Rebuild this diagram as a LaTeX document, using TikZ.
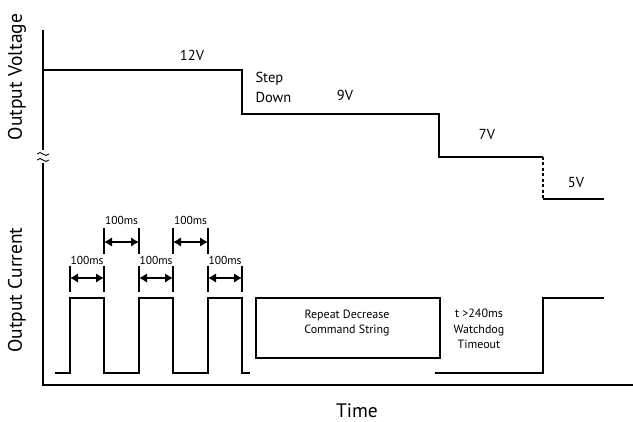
\documentclass[tikz,border=0pt]{standalone}
\usepackage{fontspec}
\setmainfont{PT Sans}
\usetikzlibrary{arrows.meta}
\begin{document}
\begin{tikzpicture}[x=1pt,y=-1pt,
  wave/.style={line width=1.3pt},
  axis/.style={line width=1.4pt},
  dim/.style={line width=1.4pt,{Latex[length=8pt,width=9.5pt]}-{Latex[length=8pt,width=9.5pt]}},
  tick/.style={line width=1.4pt},
  big/.style={font=\fontsize{19.5}{22}\selectfont},
  mid/.style={font=\fontsize{14.5}{20}\selectfont},
  small/.style={font=\fontsize{11.5}{13}\selectfont},
  boxtxt/.style={font=\fontsize{12}{15.5}\selectfont,align=center}]
\useasboundingbox (0,0) rectangle (633,422);
% axes
\draw[axis] (43,30) -- (43,150);
\draw[axis] (43,163) -- (43,385) -- (633,385);
\draw[line width=0.9pt] (37,154) .. controls (41,149) and (45,159) .. (49,154);
\draw[line width=0.9pt] (37,160) .. controls (41,155) and (45,165) .. (49,160);
% axis labels
\node[big,rotate=90] (ov) at (17,77) {Output Voltage};
\node[big,rotate=90] (oc) at (17,290) {Output Current};
\node[big] (time) at (357,411) {Time};
% voltage
\draw[wave] (43,70) -- (242,70) -- (242,114) -- (439,114) -- (439,157) -- (543,157);
\draw[wave,dashed,dash pattern=on 3pt off 2.5pt] (543,157) -- (543,199);
\draw[wave] (543,199) -- (604,199);
\node[mid] (v12) at (192,55) {12V};
\node[mid,align=left,anchor=west] (sd) at (252,87) {Step\\Down};
\node[mid] (v9) at (345,95) {9V};
\node[mid] (v7) at (487,135) {7V};
\node[mid] (v5) at (576,183) {5V};
% current pulses
\draw[wave] (55,373) -- (70,373) -- (70,298) -- (104,298) -- (104,373) -- (139,373) -- (139,298)
  -- (173,298) -- (173,373) -- (208,373) -- (208,298) -- (242,298) -- (242,373) -- (250,373);
\draw[wave] (256,298) rectangle (440,358);
\node[boxtxt] (rep) at (347,323) {Repeat Decrease\\Command String};
\draw[wave] (435,373) -- (543,373) -- (543,298) -- (604,298);
\node[boxtxt] (wd) at (479,329) {t >240ms\\Watchdog\\Timeout};
% dimension arrows lower row
\foreach \a/\b in {70/104,139/173,208/242}{
  \draw[tick] (\a,266) -- (\a,292);
  \draw[tick] (\b,266) -- (\b,292);
  \draw[dim] (\a,278) -- (\b,278);
  \node[small] at ({(\a+\b)/2},260) {100ms};
}
% upper row
\foreach \a/\b in {104/139,173/208}{
  \draw[tick] (\a,228) -- (\a,254);
  \draw[tick] (\b,228) -- (\b,254);
  \draw[dim] (\a,242) -- (\b,242);
  \node[small] at ({(\a+\b)/2},220) {100ms};
}
\end{tikzpicture}
\end{document}
